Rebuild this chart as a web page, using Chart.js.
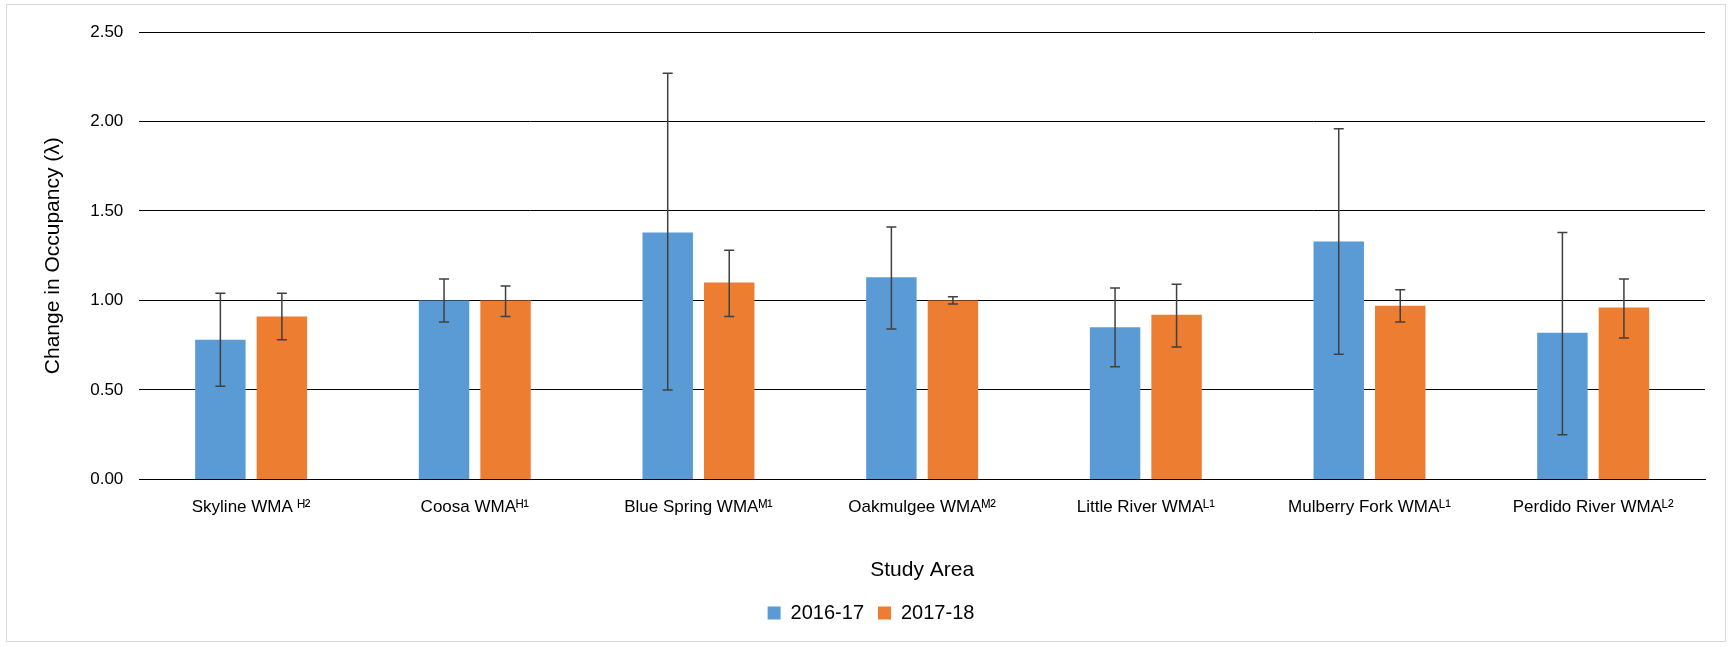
<!DOCTYPE html>
<html>
<head>
<meta charset="utf-8">
<script src="https://cdn.jsdelivr.net/npm/chart.js@4"></script>
<style>
  html, body { margin: 0; background: #fff; }
  #wrap { position: absolute; left: 6px; top: 4px; width: 1720px; height: 638px; border: 1px solid #d9d9d9; box-sizing: border-box; }
</style>
</head>
<body>
<div id="wrap"><canvas id="chart"></canvas></div>
<script>
const areas = ['Skyline WMA ᴴ²', 'Coosa WMAᴴ¹', 'Blue Spring WMAᴹ¹', 'Oakmulgee WMAᴹ²', 'Little River WMAᴸ¹', 'Mulberry Fork WMAᴸ¹', 'Perdido River WMAᴸ²'];
const lambda1617 = [0.78, 1.00, 1.38, 1.13, 0.85, 1.33, 0.82];
const low1617 = [0.52, 0.88, 0.50, 0.84, 0.63, 0.70, 0.25];
const high1617 = [1.04, 1.12, 2.27, 1.41, 1.07, 1.96, 1.38];
const lambda1718 = [0.91, 1.00, 1.10, 1.00, 0.92, 0.97, 0.96];
const low1718 = [0.78, 0.91, 0.91, 0.98, 0.74, 0.88, 0.79];
const high1718 = [1.04, 1.08, 1.28, 1.02, 1.09, 1.06, 1.12];

const font = "'Liberation Sans Narrow', 'Liberation Sans', sans-serif";

const errorBars = {
  id: 'errorBars',
  afterDatasetsDraw(chart) {
    const ctx = chart.ctx;
    const y = chart.scales.y;
    ctx.save();
    ctx.strokeStyle = '#404040';
    ctx.lineWidth = 1.5;
    chart.data.datasets.forEach((ds, i) => {
      chart.getDatasetMeta(i).data.forEach((bar, j) => {
        const yl = y.getPixelForValue(ds.low[j]);
        const yh = y.getPixelForValue(ds.high[j]);
        ctx.beginPath();
        ctx.moveTo(bar.x, yl); ctx.lineTo(bar.x, yh);
        ctx.moveTo(bar.x - 5, yl); ctx.lineTo(bar.x + 5, yl);
        ctx.moveTo(bar.x - 5, yh); ctx.lineTo(bar.x + 5, yh);
        ctx.stroke();
      });
    });
    ctx.restore();
  }
};

new Chart(document.getElementById('chart'), {
  type: 'bar',
  data: {
    labels: areas,
    datasets: [
      { label: '2016-17', data: lambda1617, low: low1617, high: high1617, backgroundColor: '#5b9bd5' },
      { label: '2017-18', data: lambda1718, low: low1718, high: high1718, backgroundColor: '#ed7d31' }
    ]
  },
  options: {
    responsive: true,
    maintainAspectRatio: false,
    animation: false,
    categoryPercentage: 0.55,
    barPercentage: 0.82,
    layout: { padding: { left: 30, right: 20, top: 27, bottom: 8 } },
    plugins: {
      legend: {
        position: 'bottom',
        labels: { font: { family: font, size: 20 }, color: '#000', boxWidth: 13, boxHeight: 13, padding: 14 }
      },
      tooltip: { enabled: false }
    },
    scales: {
      x: {
        grid: { display: false },
        border: { color: '#000' },
        ticks: { font: { family: font, size: 17 }, color: '#000', maxRotation: 0, padding: 10 },
        title: { display: true, text: 'Study Area', font: { family: font, size: 21 }, color: '#000', padding: { top: 30, bottom: 6 } }
      },
      y: {
        min: 0, max: 2.5,
        ticks: { stepSize: 0.5, callback: v => v.toFixed(2), font: { family: font, size: 17 }, color: '#000', padding: 16 },
        grid: { color: '#000', drawTicks: false },
        border: { display: false },
        title: { display: true, text: 'Change in Occupancy (λ)', font: { family: font, size: 21 }, color: '#000', padding: { bottom: 8 } }
      }
    }
  },
  plugins: [errorBars]
});
</script>
</body>
</html>
